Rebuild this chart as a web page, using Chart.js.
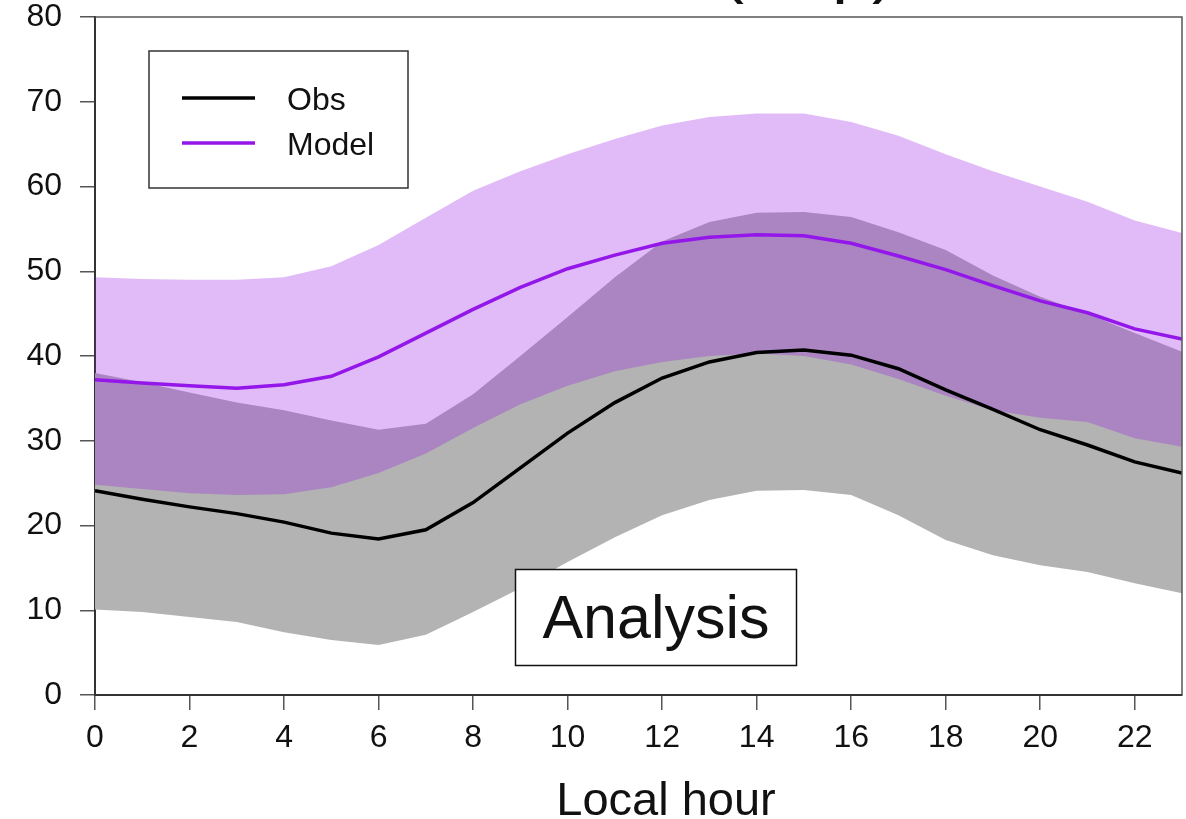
<!DOCTYPE html>
<html>
<head>
<meta charset="utf-8">
<script src="https://cdn.jsdelivr.net/npm/chart.js@4/dist/chart.umd.min.js"></script>
<style>
  html, body { margin: 0; padding: 0; background: #ffffff; }
  canvas { display: block; }
</style>
</head>
<body>
<canvas id="chart" width="1186" height="819"></canvas>
<script>
// Diurnal cycle by local hour: observed vs. modelled (ppb)
const hours = [0, 1, 2, 3, 4, 5, 6, 7, 8, 9, 10, 11, 12, 13, 14, 15, 16, 17, 18, 19, 20, 21, 22, 23];
const xTickValues = [0, 2, 4, 6, 8, 10, 12, 14, 16, 18, 20, 22];
const yTickValues = [0, 10, 20, 30, 40, 50, 60, 70, 80];

const obsMean   = [24.1, 23.1, 22.2, 21.4, 20.4, 19.1, 18.4, 19.5, 22.7, 26.8, 30.9, 34.5, 37.4, 39.3, 40.4, 40.7, 40.1, 38.5, 36.0, 33.7, 31.3, 29.5, 27.5, 26.2];
const obsHigh   = [38.0, 36.9, 35.7, 34.5, 33.6, 32.4, 31.3, 32.0, 35.5, 40.0, 44.6, 49.3, 53.5, 55.8, 56.9, 57.0, 56.4, 54.6, 52.5, 49.5, 47.0, 45.0, 42.7, 40.5];
const obsLow    = [10.1, 9.8, 9.2, 8.6, 7.4, 6.5, 5.9, 7.1, 9.8, 12.6, 15.7, 18.6, 21.2, 23.0, 24.1, 24.2, 23.6, 21.2, 18.3, 16.5, 15.3, 14.5, 13.2, 12.0];

const modelMean = [37.2, 36.8, 36.5, 36.2, 36.6, 37.6, 39.9, 42.7, 45.5, 48.1, 50.3, 51.9, 53.3, 54.0, 54.3, 54.2, 53.3, 51.8, 50.2, 48.3, 46.5, 45.1, 43.2, 42.0];
const modelHigh = [49.3, 49.1, 49.0, 49.0, 49.3, 50.6, 53.1, 56.3, 59.5, 61.8, 63.8, 65.6, 67.2, 68.2, 68.6, 68.6, 67.6, 66.0, 63.8, 61.8, 60.0, 58.2, 56.0, 54.5];
const modelLow  = [24.8, 24.3, 23.8, 23.6, 23.7, 24.5, 26.2, 28.5, 31.5, 34.3, 36.5, 38.2, 39.3, 40.0, 40.3, 40.0, 39.0, 37.3, 35.3, 33.6, 32.7, 32.2, 30.3, 29.3];

const FONT = "'Liberation Sans', Arial, Helvetica, sans-serif";
const OBS_COLOR = '#000000';
const MODEL_COLOR = '#9417ea';
const OBS_BAND = '#b3b3b3';
const MODEL_BAND = 'rgba(148, 20, 231, 0.29)';

const toPoints = arr => hours.map((h, i) => ({ x: h, y: arr[i] }));

// Plot frame, legend box, panel label and axis title
const decorations = {
  id: 'decorations',
  afterDraw(chart) {
    const ctx = chart.ctx;
    const a = chart.chartArea;
    ctx.save();

    // top and right borders of the plot
    ctx.strokeStyle = '#555555';
    ctx.lineWidth = 1.5;
    ctx.beginPath();
    ctx.moveTo(a.left, a.top);
    ctx.lineTo(a.right, a.top);
    ctx.lineTo(a.right, a.bottom);
    ctx.stroke();

    // chart title (runs off the top of the canvas)
    ctx.fillStyle = '#111111';
    ctx.font = `72px ${FONT}`;
    ctx.textAlign = 'right';
    ctx.textBaseline = 'alphabetic';
    ctx.fillText('MDA8 O3 (Sep)', 896, -11);

    // legend
    const lx = 149, ly = 51, lw = 259, lh = 137;
    ctx.fillStyle = '#ffffff';
    ctx.fillRect(lx, ly, lw, lh);
    ctx.strokeStyle = '#333333';
    ctx.lineWidth = 1.5;
    ctx.strokeRect(lx, ly, lw, lh);
    const entries = chart.data.datasets.filter(d => d.label);
    const order = ['Obs', 'Model'];
    entries.sort((p, q) => order.indexOf(p.label) - order.indexOf(q.label));
    entries.forEach((d, i) => {
      const y = 98 + i * 45;
      ctx.strokeStyle = d.borderColor;
      ctx.lineWidth = 3.5;
      ctx.beginPath();
      ctx.moveTo(182, y);
      ctx.lineTo(255, y);
      ctx.stroke();
      ctx.fillStyle = '#111111';
      ctx.font = `32px ${FONT}`;
      ctx.textAlign = 'left';
      ctx.textBaseline = 'alphabetic';
      ctx.fillText(d.label, 287, y + 12);
    });

    // panel label
    const bx = 515.5, by = 569.5, bw = 281, bh = 96;
    ctx.fillStyle = '#ffffff';
    ctx.fillRect(bx, by, bw, bh);
    ctx.strokeStyle = '#111111';
    ctx.lineWidth = 1.5;
    ctx.strokeRect(bx, by, bw, bh);
    ctx.fillStyle = '#111111';
    ctx.font = `61px ${FONT}`;
    ctx.textAlign = 'center';
    ctx.textBaseline = 'alphabetic';
    ctx.fillText('Analysis', bx + bw / 2, 638);

    // x axis title
    ctx.font = `47px ${FONT}`;
    ctx.fillText('Local hour', 666, 815);

    ctx.restore();
  }
};

const lineBase = { pointRadius: 0, pointHoverRadius: 0, tension: 0, showLine: true };

new Chart(document.getElementById('chart'), {
  type: 'line',
  data: {
    datasets: [
      { ...lineBase, label: '', data: toPoints(obsLow), borderWidth: 0, borderColor: 'rgba(0,0,0,0)', fill: false, order: 5 },
      { ...lineBase, label: '', data: toPoints(obsHigh), borderWidth: 0, borderColor: 'rgba(0,0,0,0)', backgroundColor: OBS_BAND, fill: { target: 0 }, order: 4 },
      { ...lineBase, label: '', data: toPoints(modelLow), borderWidth: 0, borderColor: 'rgba(0,0,0,0)', fill: false, order: 3 },
      { ...lineBase, label: '', data: toPoints(modelHigh), borderWidth: 0, borderColor: 'rgba(0,0,0,0)', backgroundColor: MODEL_BAND, fill: { target: 2 }, order: 2 },
      { ...lineBase, label: 'Model', data: toPoints(modelMean), borderColor: MODEL_COLOR, borderWidth: 3.5, fill: false, order: 1 },
      { ...lineBase, label: 'Obs', data: toPoints(obsMean), borderColor: OBS_COLOR, borderWidth: 3.5, fill: false, order: 0 }
    ]
  },
  options: {
    responsive: false,
    devicePixelRatio: 1,
    animation: false,
    layout: { padding: { top: 0, right: 4, left: 0, bottom: 0 } },
    plugins: {
      legend: { display: false },
      tooltip: { enabled: false },
      title: { display: false }
    },
    scales: {
      x: {
        type: 'linear',
        min: 0,
        max: 23,
        afterFit(scale) { scale.height = 124; },
        afterBuildTicks(scale) { scale.ticks = xTickValues.map(v => ({ value: v })); },
        grid: { drawOnChartArea: false, drawTicks: true, tickLength: 15, color: '#555555', lineWidth: 1.5 },
        border: { display: true, color: '#333333', width: 2 },
        ticks: {
          includeBounds: false,
          autoSkip: false,
          maxRotation: 0,
          padding: 12,
          color: '#111111',
          font: { family: FONT, size: 32, lineHeight: 1 }
        }
      },
      y: {
        min: 0,
        max: 80,
        afterFit(scale) {
          scale.width = 95;
          scale.paddingTop = 17;
          scale.paddingBottom = 0;
        },
        afterBuildTicks(scale) { scale.ticks = yTickValues.map(v => ({ value: v })); },
        grid: { drawOnChartArea: false, drawTicks: true, tickLength: 15, color: '#555555', lineWidth: 1.5 },
        border: { display: true, color: '#333333', width: 2 },
        ticks: {
          autoSkip: false,
          padding: 18,
          color: '#111111',
          font: { family: FONT, size: 32, lineHeight: 1 }
        }
      }
    }
  },
  plugins: [decorations]
});
</script>
</body>
</html>
